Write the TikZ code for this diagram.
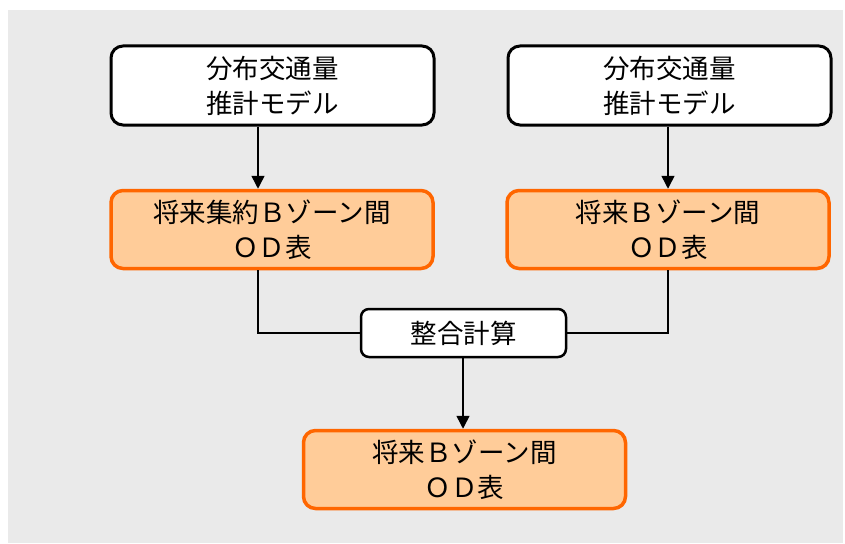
\documentclass[tikz,border=0pt]{standalone}
\usepackage{fontspec}
\setmainfont{Noto Sans CJK JP}
\usetikzlibrary{arrows.meta}
\definecolor{bggray}{HTML}{EAEAEA}
\definecolor{orfill}{HTML}{FFCC99}
\definecolor{ordraw}{HTML}{FF6600}
\tikzset{
  x=1pt,y=-1pt,
  modelbox/.style={draw=black,line width=3pt,fill=white,rounded corners=12pt,
    minimum width=323pt,minimum height=79pt,align=center,inner sep=0pt,
    font=\fontsize{26.5}{35}\selectfont},
  odbox/.style={draw=ordraw,line width=3.5pt,fill=orfill,rounded corners=12pt,
    minimum width=322pt,minimum height=78pt,align=center,inner sep=0pt,
    font=\fontsize{26.5}{35}\selectfont},
  calcbox/.style={draw=black,line width=2.5pt,fill=white,rounded corners=8pt,
    minimum width=205pt,minimum height=48pt,align=center,inner sep=0pt,
    font=\fontsize{26.5}{30}\selectfont},
  conn/.style={draw=black,line width=1.5pt},
  arr/.style={conn,-{Triangle[length=13pt,width=13pt]}},
}
\begin{document}
\begin{tikzpicture}
\useasboundingbox (0,0) rectangle (845,543);
\fill[bggray] (8,10) rectangle (843,543);
\node[modelbox] (tl) at (272.5,85.5) {分布交通量\\推計モデル};
\node[modelbox] (tr) at (669.5,85.5) {分布交通量\\推計モデル};
\node[odbox] (ol) at (272,229.5) {将来集約Ｂゾーン間\\ＯＤ表};
\node[odbox] (or) at (668,229.5) {将来Ｂゾーン間\\ＯＤ表};
\node[calcbox] (calc) at (463.5,333) {整合計算};
\node[odbox] (bot) at (464.5,469.5) {将来Ｂゾーン間\\ＯＤ表};
\coordinate (lx) at (258,0);
\coordinate (rx) at (668,0);
\coordinate (mx) at (463,0);
\draw[arr] (tl.south -| lx) -- (ol.north -| lx);
\draw[arr] (tr.south -| rx) -- (or.north -| rx);
\draw[conn] (ol.south -| lx) |- (calc.west);
\draw[conn] (or.south -| rx) |- (calc.east);
\draw[arr] (calc.south -| mx) -- (bot.north -| mx);
\end{tikzpicture}
\end{document}
